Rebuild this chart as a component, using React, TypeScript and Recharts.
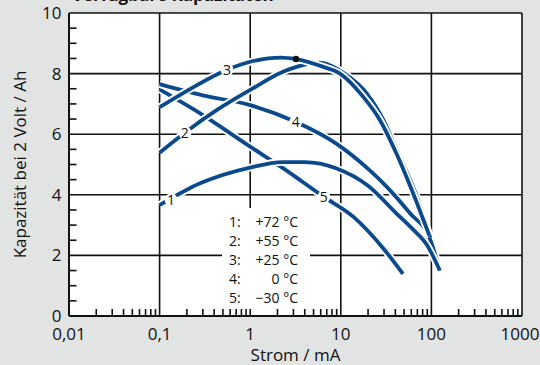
import React from "react"
import { CartesianGrid, Legend, Line, LineChart, ReferenceDot, XAxis, YAxis } from "recharts"

const BLUE = "#0a4a8c"
const INK = "#111"

// Strom (mA) -> Kapazität bei 2 Volt (Ah)
const curve1 = [
  { x: 0.1, y: 3.66 },
  { x: 0.28, y: 4.38 },
  { x: 1, y: 4.9 },
  { x: 2.3, y: 5.08 },
  { x: 4, y: 5.08 },
  { x: 9, y: 4.87 },
  { x: 20, y: 4.3 },
  { x: 41, y: 3.39 },
  { x: 63, y: 2.85 },
  { x: 89, y: 2.35 },
  { x: 124, y: 1.5 },
]
const curve2 = [
  { x: 0.1, y: 5.39 },
  { x: 0.19, y: 6.05 },
  { x: 0.43, y: 6.8 },
  { x: 1, y: 7.46 },
  { x: 2.3, y: 8.06 },
  { x: 3.8, y: 8.28 },
  { x: 5.8, y: 8.36 },
  { x: 11.6, y: 7.95 },
  { x: 19.3, y: 7.35 },
  { x: 29.5, y: 6.47 },
  { x: 41.3, y: 5.48 },
  { x: 64, y: 4.2 },
  { x: 97, y: 2.6 },
]
const curve3 = [
  { x: 0.1, y: 6.89 },
  { x: 0.18, y: 7.35 },
  { x: 0.55, y: 8.12 },
  { x: 1, y: 8.39 },
  { x: 2.2, y: 8.53 },
  { x: 3.2, y: 8.48 },
  { x: 6.3, y: 8.23 },
  { x: 9.8, y: 8.0 },
  { x: 17.6, y: 7.24 },
  { x: 27, y: 6.47 },
  { x: 41, y: 5.37 },
  { x: 60, y: 4.2 },
  { x: 95, y: 2.65 },
]
const curve4 = [
  { x: 0.1, y: 7.65 },
  { x: 0.3, y: 7.28 },
  { x: 1, y: 6.96 },
  { x: 3.2, y: 6.4 },
  { x: 9, y: 5.68 },
  { x: 20.6, y: 4.82 },
  { x: 32, y: 4.27 },
  { x: 58, y: 3.39 },
  { x: 96, y: 2.56 },
  { x: 124, y: 1.5 },
]
const curve5 = [
  { x: 0.1, y: 7.48 },
  { x: 0.28, y: 6.69 },
  { x: 1, y: 5.59 },
  { x: 2.3, y: 4.88 },
  { x: 6.5, y: 3.93 },
  { x: 13.7, y: 3.28 },
  { x: 29.5, y: 2.23 },
  { x: 48.5, y: 1.39 },
]

const curveIds = ["1", "2", "3", "4", "5"]
const temperatures = ["+72 °C", "+55 °C", "+25 °C", "0 °C", "\u221230 °C"]

// where the curve numbers sit on the lines
const labelSpots = [
  { id: "1", x: 0.134, y: 3.83 },
  { id: "2", x: 0.19, y: 6.05 },
  { id: "3", x: 0.555, y: 8.12 },
  { id: "4", x: 3.18, y: 6.4 },
  { id: "5", x: 6.5, y: 3.93 },
]
const markedPoint = { x: 3.2, y: 8.48 }

const majorX = [0.01, 0.1, 1, 10, 100, 1000]
const minorX = [0.01, 0.1, 1, 10, 100].flatMap((d) => [2, 3, 4, 5, 6, 7, 8, 9].map((m) => m * d))
const yTicks = Array.from({ length: 21 }, (_, i) => i / 2)

// drawing order: lower curves first, 3 on top
const series = [
  { id: "5", data: curve5 },
  { id: "4", data: curve4 },
  { id: "1", data: curve1 },
  { id: "2", data: curve2 },
  { id: "3", data: curve3 },
]

const XTick = (props: any) => {
  const { x, y, payload } = props
  const v = payload.value
  if (majorX.includes(v)) {
    return (
      <text x={v === 1000 ? x - 2 : x} y={y + 24} textAnchor="middle" fontSize={17} fill={INK}>
        {String(v).replace(".", ",")}
      </text>
    )
  }
  return <line x1={x} x2={x} y1={y} y2={y - 7} stroke={INK} strokeWidth={1.6} />
}

const YTick = (props: any) => {
  const { x, y, payload } = props
  const v = payload.value
  if (v % 2 === 0) {
    return (
      <text x={x - 7.5} y={y} dy={6} textAnchor="end" fontSize={17} fill={INK}>
        {v}
      </text>
    )
  }
  return <line x1={x} x2={x + 7.5} y1={y} y2={y} stroke={INK} strokeWidth={1.6} />
}

const LegendBox = () => (
  <div style={{ background: "#fff", width: 88, height: 101, paddingTop: 4, boxSizing: "border-box", fontSize: 14, color: INK }}>
    {curveIds.map((id, i) => (
      <div key={id} style={{ height: 19, lineHeight: "19px", display: "flex" }}>
        <span style={{ width: 18, marginLeft: 7 }}>{id}:</span>
        <span style={{ width: 51, textAlign: "right" }}>{temperatures[i]}</span>
      </div>
    ))}
  </div>
)

export default function App() {
  return (
    <div
      style={{
        width: 540,
        height: 365,
        position: "fixed",
        left: 0,
        top: 0,
        overflow: "hidden",
        background: "#e2e3e3",
        fontFamily: '"Open Sans", sans-serif',
      }}
    >
      <LineChart width={540} height={365} margin={{ top: 13, right: 18, bottom: 0, left: 0 }}>
        <CartesianGrid
          fill="#fff"
          stroke={INK}
          strokeWidth={1.6}
          horizontalValues={[2, 4, 6, 8, 10]}
          verticalValues={[0.1, 1, 10, 100, 1000]}
        />
        <XAxis
          dataKey="x"
          type="number"
          scale="log"
          domain={[0.01, 1000]}
          allowDataOverflow
          ticks={[...majorX, ...minorX]}
          interval={0}
          tick={XTick}
          tickLine={false}
          tickSize={0}
          tickMargin={0}
          height={49}
          axisLine={{ stroke: INK, strokeWidth: 2 }}
          label={{
            content: (p: any) => {
              const vb = p.viewBox
              return (
                <text x={vb.x + vb.width / 2} y={361} textAnchor="middle" fontSize={17} fill={INK}>
                  Strom / mA
                </text>
              )
            },
          }}
        />
        <YAxis
          type="number"
          domain={[0, 10]}
          ticks={yTicks}
          interval={0}
          tick={YTick}
          tickLine={false}
          tickSize={0}
          tickMargin={0}
          width={69}
          axisLine={{ stroke: INK, strokeWidth: 2 }}
          label={{
            content: (p: any) => {
              const vb = p.viewBox
              const cx = vb.x + 20
              const cy = vb.y + vb.height / 2
              return (
                <text x={cx} y={cy} transform={`rotate(-90, ${cx}, ${cy})`} textAnchor="middle" dy={6} fontSize={17} fill={INK}>
                  Kapazität bei 2 Volt / Ah
                </text>
              )
            },
          }}
        />
        {series.flatMap((s) => [
          <Line
            key={"halo" + s.id}
            data={s.data}
            dataKey="y"
            type="monotone"
            stroke="#fff"
            strokeWidth={7.5}
            dot={false}
            activeDot={false}
            isAnimationActive={false}
            legendType="none"
          />,
          <Line
            key={"line" + s.id}
            data={s.data}
            dataKey="y"
            name={s.id}
            type="monotone"
            stroke={BLUE}
            strokeWidth={3.8}
            dot={false}
            activeDot={false}
            isAnimationActive={false}
          />,
        ])}
        {labelSpots.map((l) => (
          <ReferenceDot
            key={l.id}
            x={l.x}
            y={l.y}
            r={6.5}
            fill="#fff"
            stroke="none"
            label={{ value: l.id, position: "center", fontSize: 14, fill: INK }}
          />
        ))}
        <ReferenceDot x={markedPoint.x} y={markedPoint.y} r={3.2} fill={INK} stroke="none" />
        <Legend
          layout="vertical"
          align="center"
          verticalAlign="middle"
          wrapperStyle={{ position: "absolute", left: 222, top: 208, width: 88, height: 101 }}
          content={() => <LegendBox />}
        />
      </LineChart>
      <div
        style={{
          position: "absolute",
          left: 72,
          top: -14,
          zIndex: 2,
          fontSize: 17,
          fontWeight: 700,
          lineHeight: "17px",
          color: INK,
          whiteSpace: "nowrap",
        }}
      >
        Verfügbare Kapazitäten
      </div>
    </div>
  )
}
